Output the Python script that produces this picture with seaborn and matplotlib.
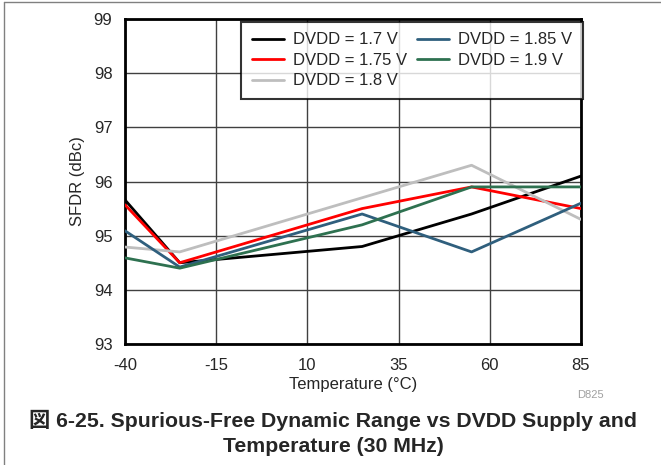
import matplotlib
matplotlib.use("Agg")
import matplotlib.pyplot as plt
import seaborn as sns
import pandas as pd

temps = [-40, -25, 25, 55, 85]
dvdd_170 = [95.66, 94.5, 94.8, 95.4, 96.1]
dvdd_175 = [95.57, 94.5, 95.5, 95.9, 95.5]
dvdd_180 = [94.79, 94.7, 95.7, 96.3, 95.3]
dvdd_185 = [95.09, 94.42, 95.4, 94.7, 95.6]
dvdd_190 = [94.59, 94.4, 95.2, 95.9, 95.9]

labels = ["DVDD = 1.7 V", "DVDD = 1.75 V", "DVDD = 1.8 V", "DVDD = 1.85 V", "DVDD = 1.9 V"]
colors = ["#000000", "#FF0000", "#BEBEBE", "#2F5F7D", "#2E7150"]

rows = []
for lab, vals in zip(labels, [dvdd_170, dvdd_175, dvdd_180, dvdd_185, dvdd_190]):
    for t, v in zip(temps, vals):
        rows.append({"Temperature": t, "SFDR": v, "Supply": lab})
df = pd.DataFrame(rows)

sns.set_style("white")
plt.rcParams['font.family'] = ['Liberation Sans', 'Noto Sans CJK JP', 'DejaVu Sans']
plt.rcParams['axes.unicode_minus'] = False

fig = plt.figure(figsize=(6.61, 4.65), dpi=100)
ax = fig.add_axes([125 / 661, 1 - 344 / 465, (581 - 125) / 661, (344 - 19) / 465])

sns.lineplot(data=df, x="Temperature", y="SFDR", hue="Supply", hue_order=labels,
             palette=colors, linewidth=2, ax=ax, zorder=3)

ax.set_xlim(-40, 85)
ax.set_ylim(93, 99)
ax.set_xticks([-40, -15, 10, 35, 60, 85])
ax.set_yticks([93, 94, 95, 96, 97, 98, 99])
ax.grid(True, color="#404040", linewidth=1)
for s in ax.spines.values():
    s.set_color("black")
    s.set_linewidth(2)
ax.tick_params(axis="x", labelsize=12, length=0, pad=10)
ax.tick_params(axis="y", labelsize=12, length=0, pad=9)
ax.set_xlabel("Temperature (°C)", fontsize=12, labelpad=3)
ax.set_ylabel("SFDR (dBc)", fontsize=12, labelpad=6)

leg = ax.legend(ncol=2, loc="upper right", bbox_to_anchor=(1.004, 0.992), fontsize=12,
                frameon=True, fancybox=False, borderaxespad=0, borderpad=0.65,
                labelspacing=0.33, handlelength=1.9, columnspacing=0.6, handletextpad=0.55)
leg.get_frame().set_edgecolor("black")
leg.get_frame().set_linewidth(1.5)
leg.set_zorder(5)

fig.text(590 / 661, 1 - 395 / 465, "D825", fontsize=8, color="#A0A0A0", ha="center", va="center")
fig.text(333 / 661, 1 - 433 / 465,
         "図 6-25. Spurious-Free Dynamic Range vs DVDD Supply and\nTemperature (30 MHz)",
         fontsize=15.3, fontweight="bold", ha="center", va="center", linespacing=1.4)

fig.add_artist(plt.Line2D([4 / 661, 4 / 661], [0, 1 - 2 / 465], transform=fig.transFigure,
                          color="#808080", linewidth=1))
fig.add_artist(plt.Line2D([4 / 661, 1], [1 - 2 / 465, 1 - 2 / 465], transform=fig.transFigure,
                          color="#808080", linewidth=1))

fig.savefig("out.png", dpi=100)
